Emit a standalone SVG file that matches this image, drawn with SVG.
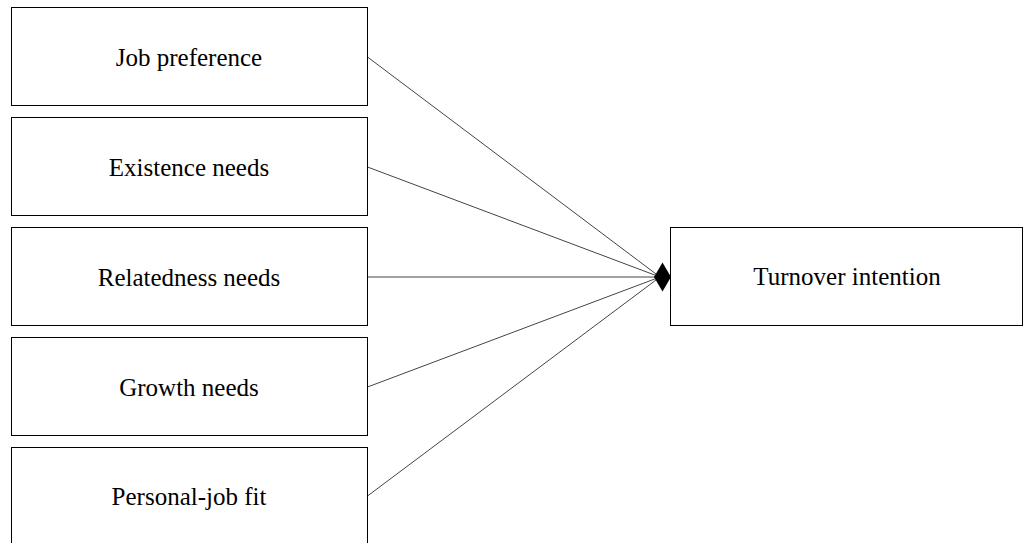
<svg xmlns="http://www.w3.org/2000/svg" width="1024" height="543" viewBox="0 0 1024 543">
<style>
.box{fill:#fff;stroke:#000;stroke-width:1}
.lbl{font-family:"Liberation Serif","Times New Roman",serif;font-size:25px;fill:#000;text-anchor:middle}
.edge{stroke:#444;stroke-width:1;fill:none}
</style>
<defs>
<marker id="dia" markerUnits="userSpaceOnUse" markerWidth="18" markerHeight="30" viewBox="0 -15 18 30" refX="17" refY="0" orient="auto">
<path d="M0,0 L8.5,-14.5 L17,0 L8.5,14.5 Z" fill="#000"/>
</marker>
</defs>
<rect width="1024" height="543" fill="#fff"/>
<g id="connectors">
<line class="edge" x1="367.5" y1="57" x2="660" y2="277"/>
<line class="edge" x1="367.5" y1="167" x2="660" y2="277"/>
<line class="edge" x1="367.5" y1="387" x2="660" y2="277"/>
<line class="edge" x1="367.5" y1="496" x2="660" y2="277"/>
<line class="edge" x1="367.5" y1="277" x2="671" y2="277" marker-end="url(#dia)"/>
</g>
<g id="n1"><rect class="box" x="11.5" y="7.5" width="356" height="98"/><text class="lbl" x="189" y="65.5">Job preference</text></g>
<g id="n2"><rect class="box" x="11.5" y="117.5" width="356" height="98"/><text class="lbl" x="189" y="175.5">Existence needs</text></g>
<g id="n3"><rect class="box" x="11.5" y="227.5" width="356" height="98"/><text class="lbl" x="189" y="285.5">Relatedness needs</text></g>
<g id="n4"><rect class="box" x="11.5" y="337.5" width="356" height="98"/><text class="lbl" x="189" y="395.5">Growth needs</text></g>
<g id="n5"><rect class="box" x="11.5" y="447.5" width="356" height="98"/><text class="lbl" x="189" y="504.5">Personal-job fit</text></g>
<g id="n6"><rect class="box" x="670.5" y="227.5" width="352" height="98"/><text class="lbl" x="847" y="284.5">Turnover intention</text></g>
</svg>
